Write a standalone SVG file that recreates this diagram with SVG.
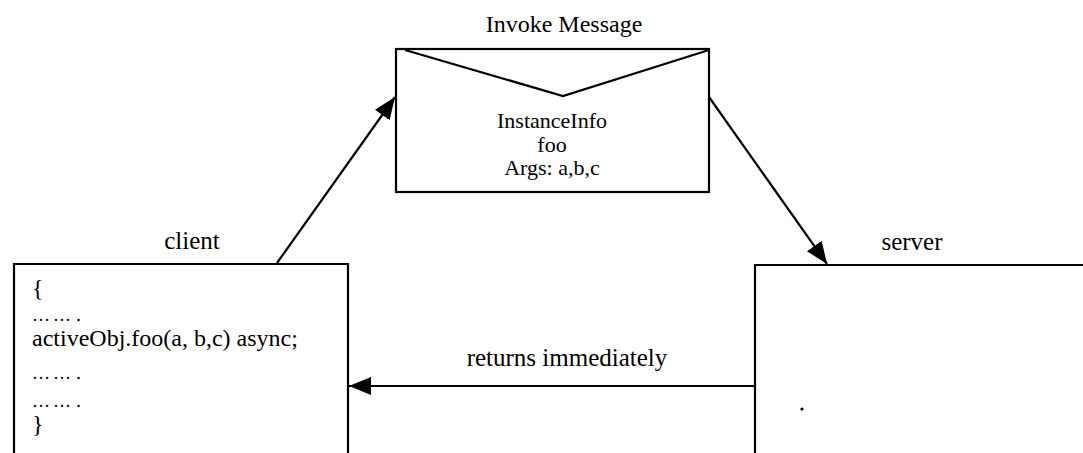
<svg xmlns="http://www.w3.org/2000/svg" width="1083" height="453" viewBox="0 0 1083 453">
<style>
.box{fill:none;stroke:#000;stroke-width:2.2}
.conn{fill:none;stroke:#000;stroke-width:2.2}
text{font-family:"Liberation Serif","Times New Roman",serif;fill:#000}
.lbl{font-size:25px;text-anchor:middle}
.msg{font-size:22px;text-anchor:middle}
.code{font-size:24px}
.dots{font-size:18px;letter-spacing:3px}
</style>
<defs>
<marker id="ah" markerUnits="userSpaceOnUse" markerWidth="24" markerHeight="20" refX="22" refY="9" orient="auto">
<path d="M0,0 L22,9 L0,18 Z" fill="#000"/>
</marker>
</defs>
<rect width="1083" height="453" fill="#fff"/>
<g id="envelope">
<text class="lbl" x="564" y="32" style="font-size:24px">Invoke Message</text>
<rect class="box" x="396" y="49" width="313" height="143"/>
<polyline class="box" points="405,50 563,96 709,50"/>
<text class="msg" x="552" y="128">InstanceInfo</text>
<text class="msg" x="552" y="152">foo</text>
<text class="msg" x="552" y="175">Args: a,b,c</text>
</g>
<g id="client">
<text class="lbl" x="192" y="249">client</text>
<polyline class="box" points="14,460 14,264 348,264 348,460"/>
<text class="code" x="32" y="296">{</text>
<text class="code dots" x="32" y="321">……․</text>
<text class="code" x="32" y="346">activeObj.foo(a, b,c) async;</text>
<text class="code dots" x="32" y="379">……․</text>
<text class="code dots" x="32" y="407">……․</text>
<text class="code" x="32" y="432">}</text>
</g>
<g id="server">
<text class="lbl" x="912" y="250">server</text>
<polyline class="box" points="755,460 755,265 1090,265"/>
<circle cx="802" cy="409" r="1.6" fill="#000"/>
</g>
<g id="connectors">
<line class="conn" x1="277" y1="263" x2="395" y2="97" marker-end="url(#ah)"/>
<line class="conn" x1="709" y1="97" x2="827" y2="264" marker-end="url(#ah)"/>
<line class="conn" x1="755" y1="386" x2="349" y2="386" marker-end="url(#ah)"/>
<text class="lbl" x="567" y="366">returns immediately</text>
</g>
</svg>
